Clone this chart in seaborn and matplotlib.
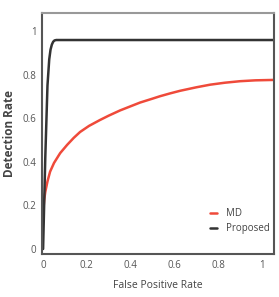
import matplotlib
matplotlib.use("Agg")
import matplotlib.pyplot as plt
import seaborn as sns
import pandas as pd

# Data
md_fpr = [0.0, 0.005, 0.01, 0.02, 0.032, 0.05, 0.078, 0.11, 0.14, 0.169, 0.21, 0.26, 0.3,
          0.352, 0.4, 0.443, 0.5, 0.534, 0.58, 0.626, 0.7, 0.763, 0.83, 0.9, 0.97, 1.06]
md_det = [0.165, 0.225, 0.262, 0.31, 0.355, 0.395, 0.44, 0.478, 0.51, 0.537, 0.565, 0.592, 0.612,
          0.636, 0.655, 0.672, 0.69, 0.701, 0.714, 0.726, 0.742, 0.754, 0.763, 0.77, 0.774, 0.776]
prop_fpr = [0.0, 0.01, 0.02, 0.028, 0.034, 0.04, 0.046, 0.052, 0.06, 0.08, 1.06]
prop_det = [0.0, 0.42, 0.75, 0.87, 0.915, 0.938, 0.951, 0.957, 0.959, 0.959, 0.959]
x_ticks = [0, 0.2, 0.4, 0.6, 0.8, 1]
x_tick_labels = ["0", "0.2", "0.4", "0.6", "0.8", "1"]
y_ticks = [0, 0.2, 0.4, 0.6, 0.8, 1]
y_tick_labels = ["0", "0.2", "0.4", "0.6", "0.8", "1"]

df = pd.concat([
    pd.DataFrame({"fpr": md_fpr, "det": md_det, "Method": "MD"}),
    pd.DataFrame({"fpr": prop_fpr, "det": prop_det, "Method": "Proposed"}),
])

sns.set_style("white")
plt.rcParams["font.family"] = ["Open Sans", "DejaVu Sans"]

fig = plt.figure(figsize=(2.79, 2.97), dpi=100)
ax = fig.add_axes([42 / 279, 43 / 297, 232 / 279, 241 / 297])

sns.lineplot(data=df, x="fpr", y="det", hue="Method",
             palette={"MD": "#ef4a3a", "Proposed": "#333333"},
             linewidth=1.8, sort=False, estimator=None, ax=ax)

ax.set_xlim(-0.005, 1.055)
ax.set_ylim(-0.023, 1.083)
ax.set_xticks(x_ticks)
ax.set_xticklabels(x_tick_labels)
ax.set_yticks(y_ticks)
ax.set_yticklabels(y_tick_labels)
ax.tick_params(axis="both", length=0, labelsize=7, colors="#555555", pad=4)

for side in ["left", "bottom", "right"]:
    ax.spines[side].set_color("#555555")
    ax.spines[side].set_linewidth(1.5)
ax.spines["top"].set_color("#999999")
ax.spines["top"].set_linewidth(1.5)

ax.set_xlabel("False Positive Rate", fontsize=7.5, color="#444444", labelpad=7)
ax.set_ylabel("Detection Rate", fontsize=8.5, color="#444444", fontweight="bold", labelpad=5)

leg = ax.legend(loc="lower right", bbox_to_anchor=(1.02, 0.045), frameon=False,
                fontsize=7, handlelength=0.7, handletextpad=0.9,
                labelspacing=0.45, labelcolor="#444444")
for line in leg.get_lines():
    line.set_linewidth(1.8)

fig.savefig("out.png", dpi=100)
